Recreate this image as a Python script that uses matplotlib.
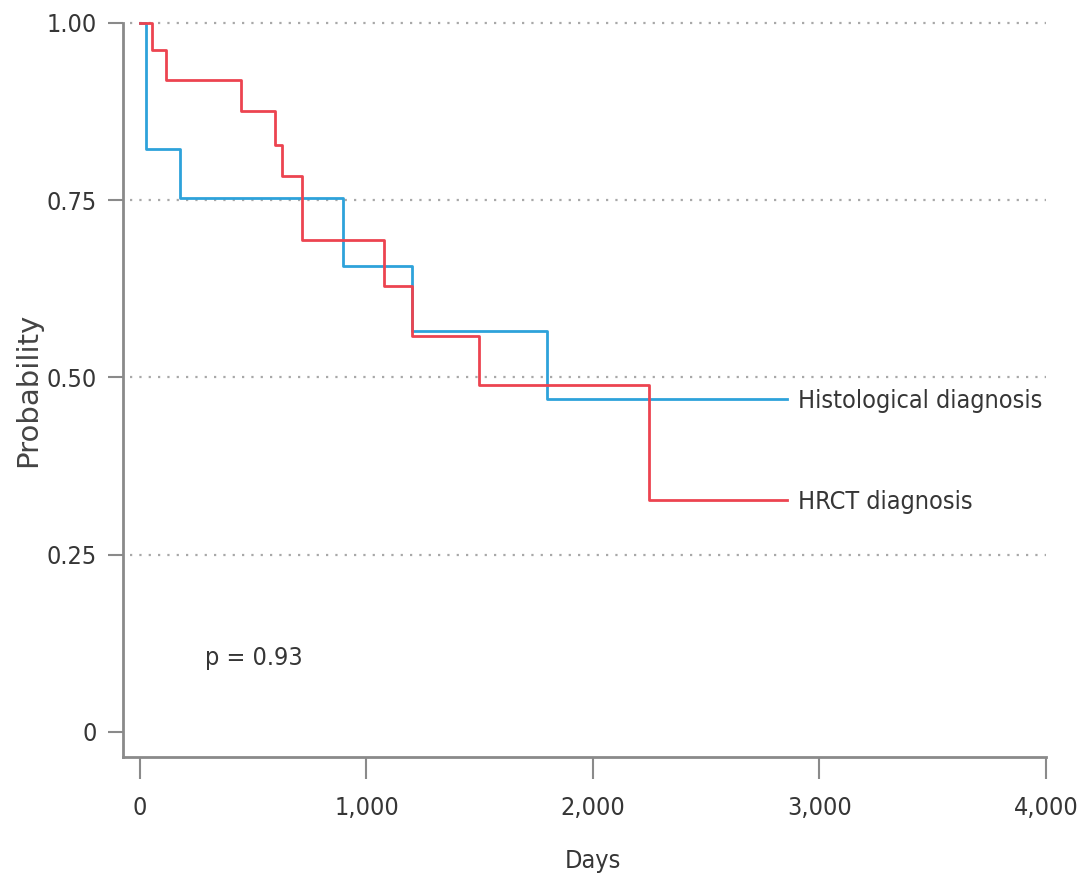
import matplotlib
matplotlib.use('Agg')
import matplotlib.pyplot as plt
from matplotlib import font_manager

# Kaplan-Meier estimates (days, survival probability)
hist_days = [0, 26, 177, 896, 1201, 1797, 2857]
hist_surv = [1.0, 0.822, 0.753, 0.657, 0.565, 0.470, 0.470]

hrct_days = [0, 53, 115, 446, 596, 627, 715, 1077, 1200, 1497, 2247, 2857]
hrct_surv = [1.0, 0.962, 0.920, 0.876, 0.828, 0.784, 0.694, 0.629, 0.558, 0.489, 0.327, 0.327]

group_names = ['Histological diagnosis', 'HRCT diagnosis']
p_text = 'p = 0.93'

x_ticks = [0, 1000, 2000, 3000, 4000]
x_labels = ['0', '1,000', '2,000', '3,000', '4,000']
y_ticks = [0, 0.25, 0.5, 0.75, 1.0]
y_labels = ['0', '0.25', '0.50', '0.75', '1.00']

txt_col = '#363636'
axis_col = '#8a8a8a'
blue = '#2ea2da'
red = '#ec4450'


def pick_narrow_font():
    # look for a condensed / narrow regular face among the installed fonts
    order = {'ultra-condensed': 0, 'extra-condensed': 1, 'condensed': 2,
             'semi-condensed': 3}
    best = None
    for f in font_manager.fontManager.ttflist:
        st = str(f.stretch)
        name = f.name.lower()
        if st in order:
            rank = order[st]
        elif 'narrow' in name or 'condensed' in name:
            rank = 2
        else:
            continue
        if f.style != 'normal' or f.weight not in (400, 'normal', 'regular'):
            continue
        if best is None or rank < best[0]:
            best = (rank, f.fname)
    if best is None:
        return font_manager.FontProperties(family='DejaVu Sans')
    return font_manager.FontProperties(fname=best[1])


fp = pick_narrow_font()

fig = plt.figure(figsize=(10.82, 8.8), dpi=100)
ax = fig.add_axes([0.1137, 0.1398, 0.8530, 0.8341])
ax.set_xlim(-75, 4000)
ax.set_ylim(-0.0353, 1.0)

# size the label font so the longest label spans about 245 px
renderer = fig.canvas.get_renderer()
probe = fig.text(0, 0, group_names[0], fontproperties=fp, fontsize=20)
w = probe.get_window_extent(renderer).width
probe.remove()
fs = min(27, 20 * 245.0 / w)
fp.set_size(fs)

# dotted reference lines
for y in y_ticks[1:]:
    ax.plot([-44, 4000], [y, y], linestyle=(0, (1, 3.2)), color='#a8a8a8',
            linewidth=1.6, clip_on=False, zorder=1)

ax.step(hist_days, hist_surv, where='post', color=blue, linewidth=2.0,
        clip_on=False, zorder=3)
ax.step(hrct_days, hrct_surv, where='post', color=red, linewidth=2.0,
        clip_on=False, zorder=4)

cap = 0.36 * fs / 72 * 100 / 709.0
ax.text(2903, 0.470 - cap, group_names[0], fontproperties=fp,
        color=txt_col, ha='left', va='baseline')
ax.text(2903, 0.327 - cap, group_names[1], fontproperties=fp,
        color=txt_col, ha='left', va='baseline')
ax.text(287, 0.104, p_text, fontproperties=fp, color=txt_col,
        ha='left', va='center')

for side in ['top', 'right']:
    ax.spines[side].set_visible(False)
for side in ['left', 'bottom']:
    ax.spines[side].set_color(axis_col)
    ax.spines[side].set_linewidth(2.0)

ax.set_xticks(x_ticks)
ax.set_xticklabels(x_labels, fontproperties=fp, color=txt_col)
ax.set_yticks(y_ticks)
ax.set_yticklabels(y_labels, fontproperties=fp, color=txt_col)
ax.tick_params(axis='x', length=16, width=1.5, color=axis_col, pad=12)
ax.tick_params(axis='y', length=11, width=1.5, color=axis_col, pad=8)

ax.set_xlabel('Days', fontproperties=fp, color=txt_col)
ax.xaxis.set_label_coords(0.509, -0.125)
ax.set_ylabel('Probability', family='DejaVu Sans', fontsize=21, color='#444444')
ax.yaxis.set_label_coords(-0.088, 0.5)

fig.savefig('out.png', dpi=100)
